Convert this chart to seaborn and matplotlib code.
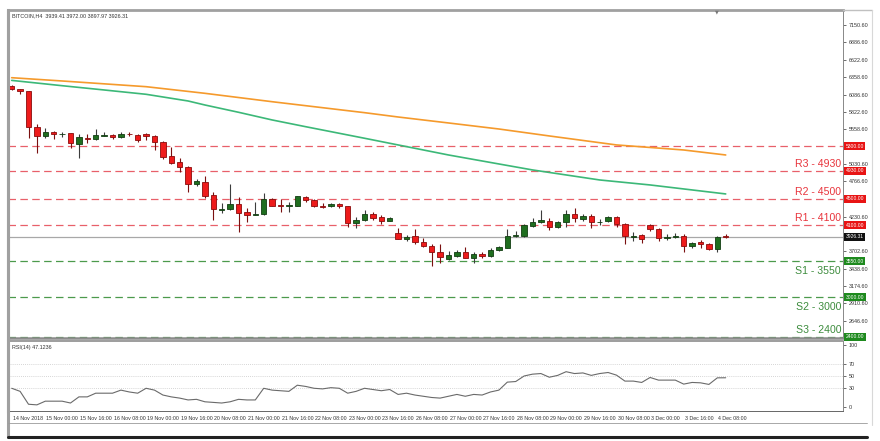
import numpy as np
import pandas as pd
import matplotlib
matplotlib.use("Agg")
import matplotlib.pyplot as plt
import matplotlib.transforms as mtransforms
from matplotlib.lines import Line2D
import seaborn as sns

sns.set_style("white")
plt.rcParams['font.family'] = ['DejaVu Sans']

# ---------------- data ----------------
opens = [6227, 6176, 6145, 5602, 5460, 5526, 5490, 5500, 5338, 5434,
         5409, 5465, 5475, 5440, 5495, 5475, 5485, 5455, 5373, 5155,
         5058, 4992, 4733, 4764, 4555, 4337, 4342, 4423, 4296, 4256,
         4266, 4500, 4408, 4393, 4398, 4535, 4484, 4398, 4388, 4428,
         4393, 4139, 4175, 4266, 4225, 4169, 3976, 3895, 3930, 3849,
         3788, 3687, 3585, 3631, 3692, 3606, 3666, 3636, 3722, 3758,
         3936, 3930, 4093, 4144, 4164, 4073, 4144, 4266, 4195, 4235,
         4144, 4164, 4225, 4124, 3925, 3951, 4103, 4042, 3910, 3920,
         3941, 3783, 3844, 3819, 3738, 3939.41]
highs = [6240, 6180, 6150, 5637, 5577, 5530, 5526, 5505, 5485, 5485,
         5561, 5526, 5495, 5516, 5516, 5485, 5500, 5475, 5389, 5297,
         5129, 5008, 4799, 4850, 4601, 4433, 4723, 4535, 4357, 4449,
         4596, 4520, 4495, 4459, 4550, 4550, 4500, 4433, 4444, 4438,
         4393, 4230, 4332, 4307, 4256, 4225, 4053, 3951, 4037, 3910,
         3814, 3819, 3707, 3722, 3763, 3697, 3687, 3748, 3783, 4037,
         4012, 4119, 4205, 4327, 4205, 4164, 4332, 4368, 4276, 4266,
         4195, 4246, 4246, 4134, 3992, 3966, 4124, 4053, 3961, 3981,
         3961, 3849, 3875, 3834, 3941, 3972.00]
lows = [6165, 6100, 5424, 5206, 5424, 5414, 5450, 5272, 5130, 5348,
        5399, 5460, 5414, 5424, 5460, 5373, 5399, 5247, 5104, 5028,
        4906, 4611, 4697, 4510, 4180, 4281, 4332, 4002, 4144, 4256,
        4256, 4393, 4306, 4306, 4393, 4459, 4378, 4357, 4373, 4357,
        4078, 4053, 4164, 4180, 4124, 4159, 3885, 3860, 3809, 3773,
        3478, 3519, 3570, 3616, 3595, 3519, 3595, 3621, 3707, 3748,
        3920, 3915, 4073, 4134, 4027, 4053, 4073, 4154, 4164, 4063,
        4103, 4154, 4078, 3819, 3860, 3834, 4012, 3860, 3875, 3900,
        3697, 3748, 3758, 3722, 3687, 3897.97]
closes = [6176, 6145, 5602, 5465, 5526, 5495, 5495, 5348, 5440, 5414,
          5475, 5470, 5440, 5490, 5485, 5399, 5455, 5373, 5145, 5053,
          4987, 4733, 4774, 4550, 4342, 4347, 4423, 4281, 4256, 4266,
          4500, 4398, 4393, 4408, 4540, 4484, 4393, 4378, 4428, 4388,
          4139, 4180, 4266, 4215, 4164, 4215, 3895, 3925, 3849, 3783,
          3687, 3611, 3641, 3687, 3606, 3661, 3631, 3722, 3763, 3941,
          3951, 4103, 4154, 4185, 4068, 4149, 4271, 4205, 4235, 4144,
          4150, 4220, 4114, 3941, 3935, 3885, 4042, 3910, 3915, 3930,
          3788, 3834, 3814, 3733, 3921, 3926.31]

x_tick_labels = ["14 Nov 2018", "15 Nov 00:00", "15 Nov 16:00", "16 Nov 08:00",
                 "19 Nov 00:00", "19 Nov 16:00", "20 Nov 08:00", "21 Nov 00:00",
                 "21 Nov 16:00", "22 Nov 08:00", "23 Nov 00:00", "23 Nov 16:00",
                 "26 Nov 08:00", "27 Nov 00:00", "27 Nov 16:00", "28 Nov 08:00",
                 "29 Nov 00:00", "29 Nov 16:00", "30 Nov 08:00", "3 Dec 00:00",
                 "3 Dec 16:00", "4 Dec 08:00"]

ma_slow_bars = [0, 6, 16, 23, 31, 42, 46, 52, 58, 64, 72, 80, 85]
ma_slow_vals = [6348, 6298, 6211, 6110, 5982, 5815, 5749, 5658, 5566, 5460, 5323, 5246, 5170]
ma_fast_bars = [0, 6, 11, 16, 21, 23, 27, 31, 35, 42, 46, 52, 58, 62, 70, 76, 85]
ma_fast_vals = [6307, 6226, 6161, 6095, 5993, 5932, 5821, 5704, 5601, 5425, 5323, 5170,
                5033, 4942, 4789, 4713, 4576]

rsi_bars = [0, 1, 2, 3, 4, 6, 7, 8, 9, 10, 12, 13, 14, 15, 16, 17, 18, 19, 20, 21,
            22, 23, 24, 25, 26, 27, 28, 29, 30, 31, 33, 34, 35, 36, 37, 38, 39, 40,
            41, 42, 43, 44, 45, 46, 47, 48, 49, 50, 51, 52, 53, 54, 55, 56, 57, 58,
            59, 60, 61, 62, 63, 64, 65, 66, 67, 68, 69, 70, 71, 72, 73, 74, 75, 76,
            77, 79, 80, 81, 82, 83, 84, 85]
rsi_vals = [30, 25, 4, 3, 9, 9, 6, 16, 16, 22, 22, 27, 24, 22, 30, 27, 19, 16, 14, 11,
            12, 8, 7, 6, 8, 12, 11, 11, 30, 27, 25, 35, 33, 30, 29, 31, 30, 22,
            25, 30, 28, 26, 28, 20, 22, 19, 17, 15, 14, 17, 20, 17, 20, 19, 24, 27,
            40, 41, 50, 53, 54, 48, 51, 57, 54, 55, 51, 54, 55.7, 51.4, 41.7, 41.7, 39.5, 47.6,
            43.3, 43.3, 36.8, 39.5, 38.9, 36.3, 47, 47.12]

res_levels = [4930, 4500, 4100]
res_names = ["R3", "R2", "R1"]
extra_res_level = 5300
sup_levels = [3550, 3000, 2400]
sup_names = ["S1", "S2", "S3"]
current_price = 3926.31

y_tick_labels = ["7150.60", "6886.60", "6622.60", "6358.60", "6086.60", "5822.60",
                 "5558.60", "5030.60", "4766.60", "4230.60", "3702.60", "3438.60",
                 "3174.60", "2910.60", "2646.60"]
rsi_ticks = [0, 30, 50, 70, 100]

# ---------------- figure ----------------
W, H = 880, 441
fig = plt.figure(figsize=(W / 100, H / 100), dpi=100)
fig.patch.set_facecolor("white")

def fx(px):
    return px / W

def fy(py):
    return 1 - py / H

left_px, right_px = 8, 843
ax = fig.add_axes([fx(left_px), fy(338), fx(right_px - left_px), (338 - 10) / H])
axr = fig.add_axes([fx(left_px), fy(411), fx(right_px - left_px), (411 - 341) / H])

n = len(opens)
bars = np.arange(n)
df = pd.DataFrame({"bar": bars, "open": opens, "high": highs, "low": lows, "close": closes})
df["up"] = df["close"] >= df["open"]

xlim = ((left_px - 11.7) / 8.4, (right_px - 11.7) / 8.4)

# wicks
for up, col in [(True, "#3c3c3c"), (False, "#7a1010")]:
    d = df[df["up"] == up]
    ax.vlines(d["bar"], d["low"], d["high"], color=col, lw=0.8, zorder=3)
# bodies
body_w = 0.62
for up, fc, ec in [(True, "#1f6e1f", "#123d12"), (False, "#ee1b1b", "#8a0c0c")]:
    d = df[df["up"] == up]
    bottom = np.minimum(d["open"], d["close"])
    height = np.maximum(np.abs(d["close"] - d["open"]), 6)
    ax.bar(d["bar"], height, bottom=bottom, width=body_w, color=fc, edgecolor=ec,
           linewidth=0.6, zorder=4)

# moving averages
sns.lineplot(x=ma_slow_bars, y=ma_slow_vals, ax=ax, color="#f59a2c", lw=1.2,
             estimator=None, sort=False, zorder=2)
sns.lineplot(x=ma_fast_bars, y=ma_fast_vals, ax=ax, color="#3cb878", lw=1.2,
             estimator=None, sort=False, zorder=2)

# levels
res_col_line = "#e8606a"
sup_col_line = "#4c9a4c"
dash = (0, (6, 3.5))
for lv in [extra_res_level] + res_levels:
    ax.axhline(lv, color=res_col_line, lw=0.9, ls=dash, zorder=1)
for lv in sup_levels:
    ax.axhline(lv, color=sup_col_line, lw=0.9, ls=dash, zorder=1)
ax.axhline(current_price, color="#a8a8a8", lw=0.9, zorder=1)

trans = mtransforms.blended_transform_factory(ax.transAxes, ax.transData)
lab_x = (841 - left_px) / (right_px - left_px)
for nm, lv in zip(res_names, res_levels):
    ax.annotate(f"{nm} - {lv}", xy=(lab_x, lv), xycoords=trans, xytext=(0, 1.5),
                textcoords="offset points", ha="right", va="bottom",
                fontsize=7.6, color="#e8343c", family="Liberation Sans")
sup_offsets = [(-3.5, "top"), (-3.5, "top"), (1.2, "bottom")]
for (nm, lv), (off, va) in zip(zip(sup_names, sup_levels), sup_offsets):
    ax.annotate(f"{nm} - {lv}", xy=(lab_x, lv), xycoords=trans, xytext=(0, off),
                textcoords="offset points", ha="right", va=va,
                fontsize=7.6, color="#3d8c3d", family="Liberation Sans")

# right-side price boxes
def price_box(val, fc, txt):
    ax.text(1.003, val, txt, transform=trans, ha="left", va="center", fontsize=3.6,
            color="white", zorder=10, clip_on=False, family="Liberation Sans",
            bbox=dict(boxstyle="square,pad=0.3", fc=fc, ec="none"))

price_box(extra_res_level, "#e81414", f"{extra_res_level:.2f}")
for lv in res_levels:
    price_box(lv, "#e81414", f"{lv:.2f}")
price_box(current_price, "#111111", f"{current_price:.2f}")
for lv in sup_levels:
    price_box(lv, "#1e8a1e", f"{lv:.2f}")

ax.set_xlim(*xlim)
ax.set_ylim(2380, 7380)
ax.set_xticks([])
ax.yaxis.tick_right()
ax.set_yticks([float(t) for t in y_tick_labels])
ax.set_yticklabels(y_tick_labels, family="Liberation Sans")
ax.tick_params(axis="y", which="both", direction="out", length=2.5, width=0.5,
               labelsize=3.9, pad=1.5, colors="#333333", right=True, left=False)
ax.set_xlabel("")
ax.set_ylabel("")

# RSI panel
sns.lineplot(x=rsi_bars, y=rsi_vals, ax=axr, color="#6a6a6a", lw=0.8,
             estimator=None, sort=False)
for lv in [30, 50, 70]:
    axr.axhline(lv, color="#c8c8c8", lw=0.6, ls=(0, (1, 1.5)), zorder=0)
axr.set_xlim(*xlim)
axr.set_ylim(-7, 107)
axr.yaxis.tick_right()
axr.set_yticks(rsi_ticks)
axr.set_yticklabels([str(t) for t in rsi_ticks], family="Liberation Sans")
axr.tick_params(axis="y", direction="out", length=2.5, width=0.5, labelsize=3.9,
                pad=1.5, colors="#333333", right=True, left=False)
axr.set_xticks(np.arange(0, 4 * len(x_tick_labels), 4))
axr.set_xticklabels(x_tick_labels, ha="left", family="Liberation Sans")
axr.tick_params(axis="x", direction="out", length=2.5, width=0.5, labelsize=3.8,
                pad=1.0, colors="#333333")
for lbl in axr.get_xticklabels():
    lbl.set_transform(lbl.get_transform() + mtransforms.ScaledTranslation(1 / 100, 0, fig.dpi_scale_trans))
axr.set_xlabel("")
axr.set_ylabel("")

# spines / frames
for a in (ax, axr):
    for s in a.spines.values():
        s.set_color("#888888")
        s.set_linewidth(0.7)
    a.spines["left"].set_color("#a0a0a0")
    a.spines["left"].set_linewidth(2.2)
ax.spines["top"].set_color("#a0a0a0")
ax.spines["top"].set_linewidth(2.0)
ax.spines["bottom"].set_color("#8c8c8c")
ax.spines["bottom"].set_linewidth(1.8)
axr.spines["top"].set_color("#8c8c8c")
axr.spines["top"].set_linewidth(1.2)
axr.spines["bottom"].set_color("#666666")

# texts
fig.text(fx(12), fy(16), "BITCOIN,H4  3939.41 3972.00 3897.97 3926.31", fontsize=3.9,
         color="#333333", ha="left", va="center", family="Liberation Sans")
fig.text(fx(12), fy(347), "RSI(14) 47.1236", fontsize=3.9, color="#333333",
         ha="left", va="center", family="Liberation Sans")

# window decorations
fig.add_artist(Line2D([fx(8), fx(8)], [fy(10), fy(437)], color="#a0a0a0", lw=2.2))
fig.add_artist(Line2D([fx(8), fx(867)], [fy(423), fy(423)], color="#9a9a9a", lw=0.6))
fig.add_artist(Line2D([fx(8), fx(867)], [fy(437), fy(437)], color="#222222", lw=2.2))
fig.add_artist(Line2D([fx(843), fx(872)], [fy(10), fy(10)], color="#c0c0c0", lw=1.0))
fig.add_artist(Line2D([fx(872), fx(872)], [fy(10), fy(425)], color="#d8d8d8", lw=0.8))
fig.text(fx(717), fy(12), "\u25BC", fontsize=3.5, color="#777777", ha="center", va="center")

fig.savefig("out.png", dpi=100, facecolor="white")
